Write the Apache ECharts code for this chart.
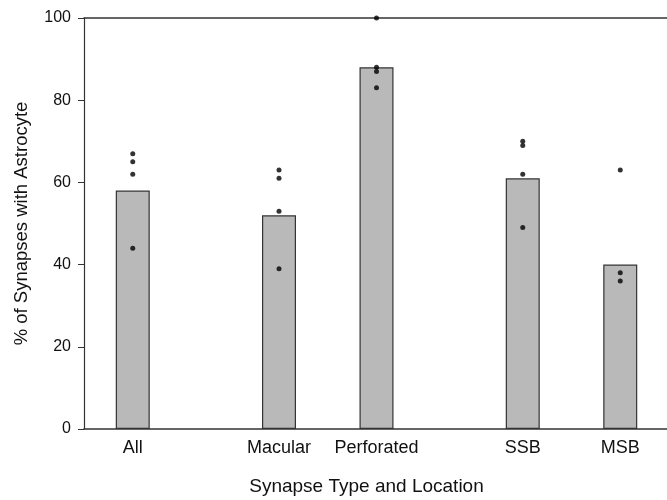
<!DOCTYPE html>
<html>
<head>
<meta charset="utf-8">
<script src="https://cdn.jsdelivr.net/npm/echarts@6/dist/echarts.min.js"></script>
<style>html,body{margin:0;padding:0;background:#fff}#c{width:667px;height:500px}</style>
</head>
<body>
<div id="c"></div>
<script>
// Category slots ('' = empty spacer slot, as in the original plot)
var categories = ['', 'All', '', '', 'Macular', '', 'Perforated', '', '', 'SSB', '', 'MSB', ''];
var groups = ['All', 'Macular', 'Perforated', 'SSB', 'MSB'];
var barValues = [58, 52, 88, 61, 40];
var dotsAll = [67, 65, 62, 44];
var dotsMacular = [63, 61, 53, 39];
var dotsPerforated = [100, 88, 87, 83];
var dotsSSB = [70, 69, 62, 49];
var dotsMSB = [63, 38, 36];
var yTicks = [0, 20, 40, 60, 80, 100];

var dotLists = [dotsAll, dotsMacular, dotsPerforated, dotsSSB, dotsMSB];
var barData = categories.map(function (c) {
  var i = groups.indexOf(c);
  return i >= 0 ? barValues[i] : null;
});
var scatterData = [];
groups.forEach(function (g, i) {
  dotLists[i].forEach(function (v) { scatterData.push([categories.indexOf(g), v]); });
});

var font = "'Liberation Sans', Arial, sans-serif";
var chart = echarts.init(document.getElementById('c'), null, {renderer: 'canvas'});
chart.setOption({
  animation: false,
  backgroundColor: '#fff',
  grid: {left: 84, top: 18, width: 585, height: 411, outerBoundsMode: 'none', containLabel: false},
  xAxis: [{
    type: 'category',
    data: categories,
    boundaryGap: false,
    axisLine: {show: true, lineStyle: {color: '#333', width: 1.5}},
    axisTick: {show: false},
    axisLabel: {interval: 0, fontFamily: font, fontSize: 18, color: '#111', margin: 10},
    splitLine: {show: false},
    name: 'Synapse Type and Location',
    nameLocation: 'middle',
    nameGap: 48,
    nameTextStyle: {fontFamily: font, fontSize: 19, color: '#111', padding: [0, 20, 0, 0]}
  }, {
    type: 'category',
    data: categories,
    boundaryGap: false,
    position: 'top',
    axisLine: {show: true, lineStyle: {color: '#333', width: 1.5}},
    axisTick: {show: false},
    axisLabel: {show: false},
    splitLine: {show: false}
  }],
  yAxis: {
    type: 'value',
    min: yTicks[0],
    max: yTicks[yTicks.length - 1],
    interval: 20,
    axisLine: {show: true, lineStyle: {color: '#333', width: 1.2}},
    axisTick: {show: true, inside: false, length: 6, lineStyle: {color: '#333'}},
    axisLabel: {fontFamily: font, fontSize: 16, color: '#111', margin: 13},
    splitLine: {show: false},
    name: '% of Synapses with Astrocyte',
    nameLocation: 'middle',
    nameGap: 53,
    nameTextStyle: {fontFamily: font, fontSize: 18.5, color: '#111'}
  },
  series: [{
    type: 'bar',
    data: barData,
    barWidth: 34,
    itemStyle: {color: '#b9b9b9', borderColor: '#333', borderWidth: 1.2}
  }, {
    type: 'scatter',
    data: scatterData,
    symbol: 'circle',
    symbolSize: 5,
    itemStyle: {color: '#000'},
    z: 5
  }]
});
</script>
</body>
</html>
